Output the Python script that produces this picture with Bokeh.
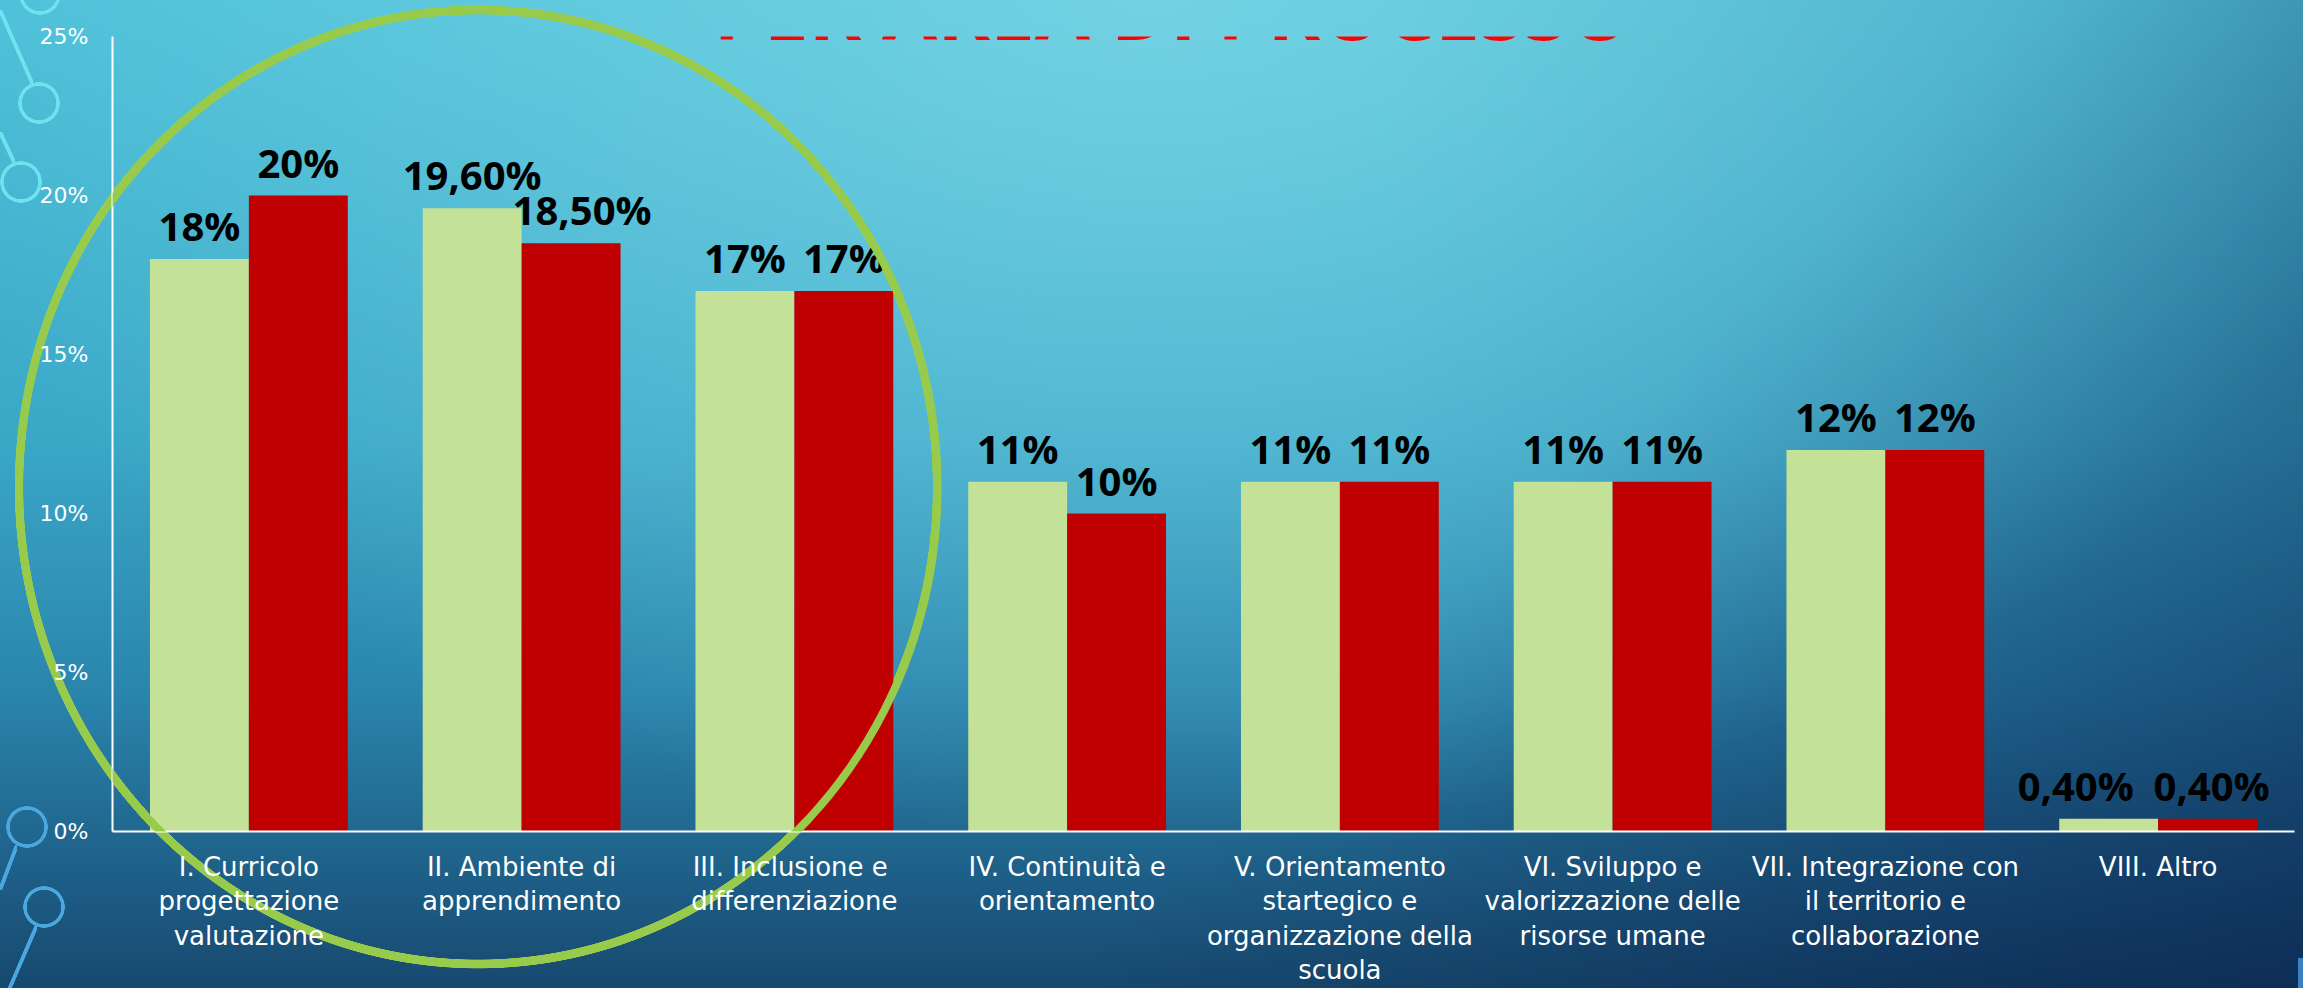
import math
from bokeh.plotting import figure
from bokeh.models import (FactorRange, Range1d, FixedTicker, PrintfTickFormatter,
                          ColumnDataSource, LabelSet, Label, PolyAnnotation)
from bokeh.transform import dodge
from bokeh.core.properties import value
from bokeh.embed import file_html
from bokeh.resources import INLINE

# ---------------- data ----------------
categories = [
    "I. Curricolo\nprogettazione\nvalutazione",
    "II. Ambiente di\napprendimento",
    "III.  Inclusione e\ndifferenziazione",
    "IV. Continuità e\norientamento",
    "V. Orientamento\nstartegico e\norganizzazione della\nscuola",
    "VI. Sviluppo e\nvalorizzazione delle\nrisorse umane",
    "VII. Integrazione con\nil territorio e\ncollaborazione",
    "VIII. Altro",
]
series_green = [18, 19.6, 17, 11, 11, 11, 12, 0.4]
series_red = [20, 18.5, 17, 10, 11, 11, 12, 0.4]
y_ticks = [0, 5, 10, 15, 20, 25]
title_text = "PER AREA DI PROCESSO"


def fmt(v):
    return f"{v:.0f}%" if float(v).is_integer() else f"{v:.2f}%".replace(".", ",")


# label nudges (px) that keep neighbouring value labels apart, as in the slide
nudge_green = {7: -33}
nudge_red = {1: 11, 7: 4}

# ---------------- figure ----------------
W, H = 2303, 988
FL, FR, FT, FB = 112, 2294, 36, 832          # frame edges in page pixels
p = figure(x_range=FactorRange(*categories), y_range=Range1d(0, 25),
           width=W, height=H, output_backend="svg", toolbar_location=None,
           min_border_left=FL, min_border_right=W - FR, min_border_top=FT,
           min_border_bottom=H - FB)
p.background_fill_color = None
p.border_fill_color = None
p.outline_line_color = None
p.grid.visible = False

# slide decorations (rings, connectors, green ellipse) + background gradient, as CSS
cyan, blue, lime = "#6fe2f0", "#4ba7df", "#98cb4b"
rings = [(40, -6, 19, cyan), (39, 103, 19, cyan), (21, 182, 19, cyan),
         (27, 827, 19, blue), (44, 907, 19, blue)]
strokes = [((0, 10), (33, 85), cyan), ((0, 132), (15, 164), cyan),
           ((17, 845), (0, 890), blue), ((37, 925), (8, 992), blue)]
ECX, ECY, EA, EB, EW = 478, 487, 459, 477, 8

imgs, poss, sizes = [], [], []
# slide-navigation tab peeking in at the bottom-right corner
imgs.append("linear-gradient(#3b80c2, #3b80c2)")
poss.append("2298px 958px"); sizes.append("6px 30px")
for cx, cy, r, col in rings:
    imgs.append(f"radial-gradient(circle at {cx}px {cy}px, transparent {r-2}px, {col} {r-1.5}px, "
                f"{col} {r+1.5}px, transparent {r+2}px)")
    poss.append("0 0"); sizes.append("100% 100%")
for (x0, y0), (x1, y1), col in strokes:
    direction = "to top right" if (x1 - x0) * (y1 - y0) > 0 else "to bottom right"
    imgs.append(f"linear-gradient({direction}, transparent calc(50% - 2.2px), {col} calc(50% - 1.7px), "
                f"{col} calc(50% + 1.7px), transparent calc(50% + 2.2px))")
    poss.append(f"{min(x0, x1)}px {min(y0, y1)}px")
    sizes.append(f"{abs(x1 - x0)}px {abs(y1 - y0)}px")
imgs.append(f"radial-gradient({EA}px {EB}px at {ECX}px {ECY}px, transparent {EA - EW/2 - 0.5}px, "
            f"{lime} {EA - EW/2}px, {lime} {EA + EW/2}px, transparent {EA + EW/2 + 0.5}px)")
poss.append("0 0"); sizes.append("100% 100%")
imgs += [
    "radial-gradient(ellipse 55% 85% at 50% 0%, rgba(140,222,235,0.6) 0%, rgba(140,222,235,0) 100%)",
    "linear-gradient(90deg, rgba(10,40,90,0) 60%, rgba(10,40,90,0.2) 100%)",
    "linear-gradient(135deg, rgba(5,20,60,0) 62%, rgba(5,20,60,0.5) 100%)",
    "linear-gradient(180deg, #4cc0d8 0%, #3aa7c7 45%, #2a85ad 70%, #1d5c84 90%, #17496f 100%)",
]
poss += ["0 0"] * 4
sizes += ["100% 100%"] * 4
p.styles = {
    "background-image": ", ".join(imgs),
    "background-position": ", ".join(poss),
    "background-size": ", ".join(sizes),
    "background-repeat": "no-repeat",
}

src = ColumnDataSource(dict(
    cat=categories, g=series_green, r=series_red,
    lg=[fmt(v) for v in series_green], lr=[fmt(v) for v in series_red],
    ng=[nudge_green.get(i, 0) for i in range(len(categories))],
    nr=[nudge_red.get(i, 0) for i in range(len(categories))],
))

off, bw = 0.1813, 0.3626
p.vbar(x=dodge("cat", -off, range=p.x_range), top="g", width=bw, source=src,
       fill_color="#c4e198", line_color=None)
p.vbar(x=dodge("cat", off, range=p.x_range), top="r", width=bw, source=src,
       fill_color="#c00000", line_color=None)

for field, lab, nud, d in (("g", "lg", "ng", -off), ("r", "lr", "nr", off)):
    p.add_layout(LabelSet(x=dodge("cat", d, range=p.x_range), y=field, text=lab,
                          source=src, y_offset=18, x_offset=nud, text_align="center",
                          text_baseline="alphabetic", text_font=value("Open Sans"),
                          text_font_style="bold", text_font_size=value("40px"),
                          text_color="black"))

# the part of the ellipse inside the plot area is drawn over the bars
exs, eys = [], []
for k in range(180):
    t = 2 * math.pi * k / 180
    exs.append(ECX + EA * math.cos(t))
    eys.append(ECY + EB * math.sin(t))
p.add_layout(PolyAnnotation(xs=exs, ys=eys, xs_units="canvas", ys_units="canvas",
                            fill_alpha=0, line_color=lime, line_alpha=1,
                            line_width=EW))

# axes
p.yaxis.ticker = FixedTicker(ticks=y_ticks)
p.yaxis.formatter = PrintfTickFormatter(format="%d%%")
for ax in (p.xaxis, p.yaxis):
    ax.axis_line_color = "white"
    ax.axis_line_width = 2
    ax.major_tick_line_color = None
    ax.minor_tick_line_color = None
    ax.major_tick_out = 0
    ax.major_tick_in = 0
    ax.major_label_text_color = "white"
    ax.major_label_text_font = "DejaVu Sans"
p.yaxis.major_label_text_font_size = "22px"
p.yaxis.major_label_standoff = 24
p.xaxis.major_label_text_font_size = "26px"
p.xaxis.major_label_standoff = 20
p.xaxis.major_label_text_line_height = 1.15

# title (mostly cut off at the top, as in the slide)
NX = len(categories)
def dx(px):
    return (px - FL) / (FR - FL) * NX
def dy(py):
    return (FB - py) / (FB - FT) * 25

p.add_layout(Label(x=dx(1172), y=dy(8), text=title_text,
                   text_align="center", text_baseline="alphabetic",
                   text_font="Open Sans", text_font_style="bold",
                   text_font_size="80px", text_color="#ff0000"))

open("out.html", "w").write(file_html(p, INLINE))
